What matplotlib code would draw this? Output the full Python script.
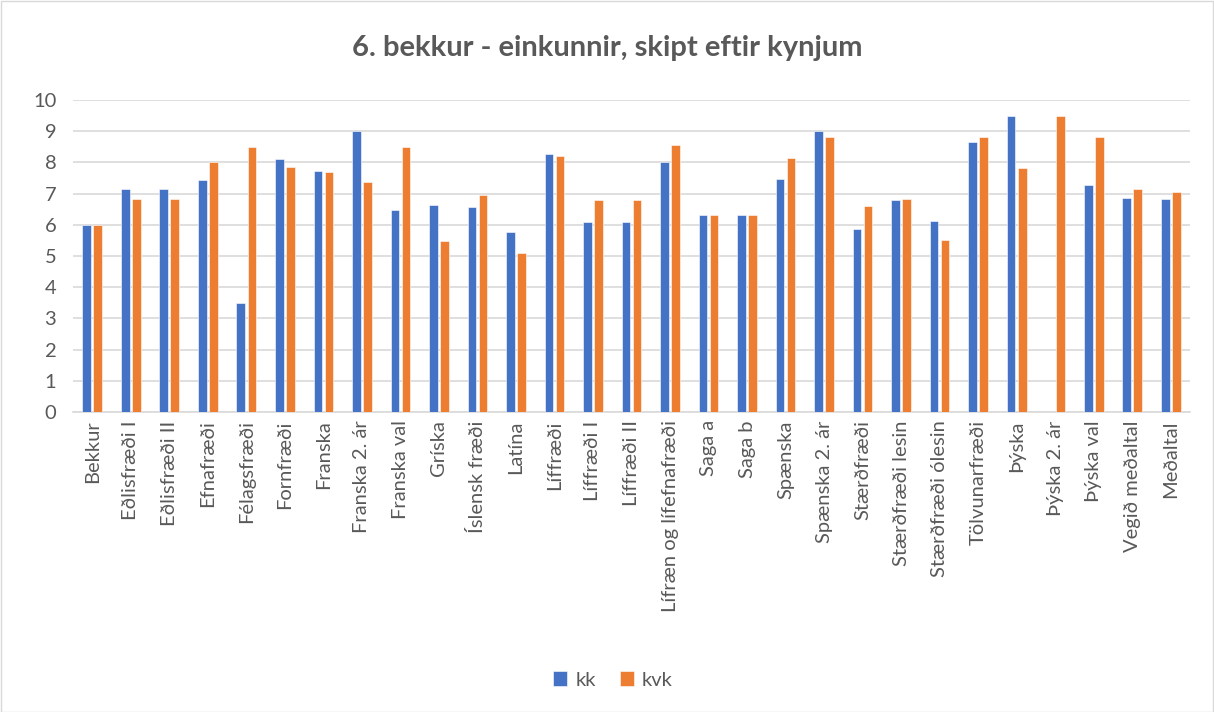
import matplotlib

matplotlib.use("Agg")
import matplotlib.pyplot as plt
import numpy as np
from matplotlib.patches import Rectangle

categories = [
    "Bekkur", "Eðlisfræði I", "Eðlisfræði II", "Efnafræði", "Félagsfræði",
    "Fornfræði", "Franska", "Franska 2. ár", "Franska val", "Gríska",
    "Íslensk fræði", "Latína", "Líffræði", "Líffræði I", "Líffræði II",
    "Lífræn og lífefnafræði", "Saga a", "Saga b", "Spænska", "Spænska 2. ár",
    "Stærðfræði", "Stærðfræði lesin", "Stærðfræði ólesin", "Tölvunarfræði",
    "Þýska", "Þýska 2. ár", "Þýska val", "Vegið meðaltal", "Meðaltal",
]
kk = [6.0, 7.16, 7.16, 7.45, 3.5, 8.11, 7.74, 9.0, 6.49, 6.62,
      6.58, 5.78, 8.28, 6.08, 6.08, 8.02, 6.32, 6.32, 7.48, 9.0,
      5.87, 6.78, 6.11, 8.64, 9.5, np.nan, 7.26, 6.87, 6.83]
kvk = [6.0, 6.84, 6.84, 8.0, 8.49, 7.84, 7.70, 7.36, 8.49, 5.49,
       6.97, 5.11, 8.22, 6.81, 6.81, 8.57, 6.32, 6.32, 8.15, 8.82,
       6.59, 6.84, 5.52, 8.80, 7.83, 9.5, 8.81, 7.15, 7.05]

C_KK = "#4472C4"
C_KVK = "#ED7D31"
C_TXT = "#595959"
C_GRID = "#D9D9D9"

plt.rcParams["font.family"] = ["Lato", "DejaVu Sans"]

fig = plt.figure(figsize=(12.14, 7.12), dpi=100)
ax = fig.add_axes([73 / 1214, 1 - 412 / 712, (1190 - 73) / 1214, 312 / 712])

x = np.arange(len(categories))
w = 0.225
ax.bar(x - 0.143, kk, w, color=C_KK, edgecolor="white", linewidth=0.4, label="kk", zorder=3)
ax.bar(x + 0.143, kvk, w, color=C_KVK, edgecolor="white", linewidth=0.4, label="kvk", zorder=3)

ax.set_xlim(-0.5, len(categories) - 0.5)
ax.set_ylim(0, 10)
ax.set_yticks(range(0, 11))
ax.yaxis.grid(True, color=C_GRID, lw=1.2, zorder=0)
ax.tick_params(axis="both", length=0, colors=C_TXT, labelsize=14.5)
ax.tick_params(axis="y", pad=12)
ax.tick_params(axis="x", pad=6)
ax.set_xticks(x)
ax.set_xticklabels(categories, rotation=90, fontsize=14.5, color=C_TXT)
for s in ["top", "right", "left"]:
    ax.spines[s].set_visible(False)
ax.spines["bottom"].set_color(C_GRID)
ax.spines["bottom"].set_linewidth(1.2)

fig.text(0.5, 1 - 48 / 712, "6. bekkur - einkunnir, skipt eftir kynjum",
         ha="center", va="center", fontsize=21, fontweight="bold", color=C_TXT)
fig.legend(loc="center", bbox_to_anchor=(0.505, 1 - 680 / 712), ncol=2, frameon=False,
           fontsize=14.5, labelcolor=C_TXT, handlelength=0.7, handleheight=0.7,
           columnspacing=1.2, handletextpad=0.4)

fig.patches.append(Rectangle((0.5 / 1214, 0.5 / 712), 1 - 1.5 / 1214, 1 - 1.5 / 712,
                             transform=fig.transFigure, fill=False, edgecolor=C_GRID, lw=1))

fig.savefig("out.png", dpi=100)
